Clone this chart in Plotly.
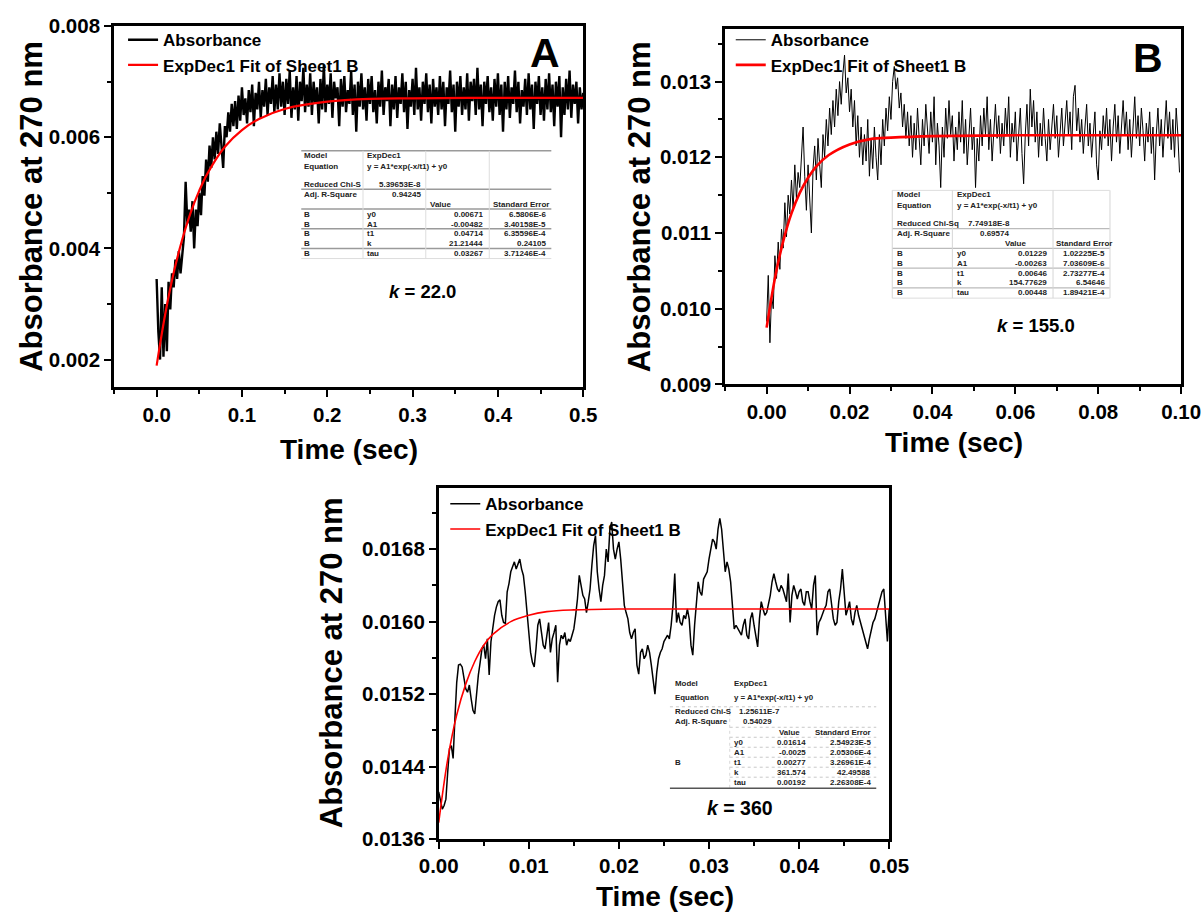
import plotly.graph_objects as go

W, H = 1203, 917
FONT = "Liberation Sans, Arial, sans-serif"

# ---------------- Panel A (k = 22.0) ----------------
A_STEP = 0.002  # sampling interval, s
A_abs_1e5 = [
    345, 250, 200, 330, 205, 300, 215, 340, 290, 355,
    330, 380, 345, 395, 355, 390, 420, 520, 445, 470,
    430, 485, 400, 470, 440, 500, 460, 530, 495, 560,
    520, 585, 545, 600, 560, 610, 570, 625, 590, 545,
    620, 600, 645, 610, 660, 620, 665, 615, 675, 630,
    690, 640, 670, 625, 685, 645, 695, 620, 680, 650,
    700, 635, 685, 655, 705, 640, 690, 660, 710, 645,
    695, 650, 715, 655, 700, 640, 705, 660, 720, 635,
    690, 650, 710, 630, 700, 665, 725, 645, 695, 655,
    715, 640, 700, 660, 690, 625, 705, 650, 730, 645,
    695, 660, 715, 635, 700, 670, 690, 620, 705, 655,
    710, 645, 685, 660, 720, 640, 695, 610, 700, 655,
    715, 650, 690, 630, 705, 660, 710, 645, 685, 625,
    700, 655, 720, 640, 690, 665, 705, 620, 695, 650,
    710, 635, 690, 660, 715, 645, 700, 615, 685, 655,
    705, 640, 725, 650, 690, 630, 700, 660, 715, 645,
    695, 625, 705, 655, 690, 640, 710, 650, 700, 620,
    690, 660, 720, 645, 695, 610, 700, 655, 710, 640,
    690, 650, 715, 630, 700, 665, 705, 640, 725, 650,
    695, 620, 700, 660, 710, 645, 690, 630, 705, 655,
    715, 640, 695, 610, 700, 650, 710, 635, 690, 660,
    720, 645, 700, 625, 685, 655, 705, 640, 715, 650,
    695, 615, 700, 660, 710, 640, 690, 630, 705, 650,
    715, 645, 695, 620, 700, 655, 710, 600, 690, 640,
    705, 650, 720, 635, 695, 660, 700, 625, 690, 650,
    680,
]
A_fit_time = [0.0, 0.01, 0.02, 0.03, 0.04, 0.05, 0.06, 0.08, 0.10, 0.12, 0.15, 0.20, 0.25, 0.30, 0.40, 0.50]
A_fit_abs = [0.00189, 0.00281, 0.00356, 0.00416, 0.00465, 0.00504, 0.00536, 0.00583, 0.00613,
             0.00633, 0.00651, 0.00664, 0.00669, 0.00670, 0.00671, 0.00671]

# ---------------- Panel B (k = 155.0) ----------------
B_STEP = 0.0004
B_abs_1e5 = [
    983, 1044, 955, 1018, 1000, 1070, 1040, 1088, 1052, 1105,
    1080, 1140, 1095, 1150, 1125, 1170, 1130, 1190, 1145, 1180,
    1160, 1200, 1240, 1175, 1130, 1190, 1150, 1100, 1185, 1215,
    1170, 1225, 1190, 1160, 1230, 1200, 1250, 1215, 1265, 1230,
    1275, 1240, 1290, 1255, 1300, 1270, 1310, 1335, 1285, 1305,
    1260, 1290, 1240, 1275, 1215, 1255, 1200, 1240, 1190, 1230,
    1195, 1250, 1175, 1225, 1185, 1240, 1200, 1170, 1230, 1190,
    1250, 1215, 1265, 1235, 1280, 1250, 1300, 1320, 1290, 1305,
    1265, 1285, 1240, 1270, 1225, 1260, 1215, 1255, 1200, 1245,
    1210, 1265, 1225, 1190, 1250, 1215, 1270, 1235, 1205, 1260,
    1220, 1280, 1190, 1245, 1215, 1160, 1240, 1200, 1265, 1225,
    1275, 1230, 1255, 1195, 1240, 1210, 1260, 1220, 1275, 1205,
    1250, 1190, 1235, 1265, 1210, 1240, 1160, 1225, 1195, 1255,
    1215, 1265, 1230, 1280, 1210, 1250, 1195, 1240, 1270, 1225,
    1255, 1205, 1245, 1215, 1265, 1230, 1280, 1200, 1245, 1220,
    1260, 1195, 1235, 1265, 1205, 1165, 1230, 1270, 1215, 1290,
    1240, 1275, 1220, 1260, 1200, 1245, 1215, 1265, 1225, 1195,
    1250, 1210, 1240, 1270, 1225, 1255, 1200, 1235, 1265, 1215,
    1245, 1275, 1230, 1260, 1210, 1280, 1295, 1235, 1265, 1220,
    1250, 1205, 1240, 1270, 1215, 1245, 1200, 1230, 1260, 1190,
    1170, 1235, 1210, 1255, 1225, 1265, 1215, 1250, 1195, 1240,
    1270, 1220, 1255, 1205, 1245, 1275, 1230, 1260, 1210, 1250,
    1200, 1240, 1280, 1225, 1255, 1215, 1265, 1235, 1195, 1245,
    1220, 1260, 1205, 1240, 1170, 1230, 1265, 1215, 1250, 1200,
    1245, 1275, 1225, 1260, 1210, 1250, 1200, 1265, 1230, 1180,
]
B_fit_time = [0.0, 0.002, 0.004, 0.006, 0.008, 0.010, 0.012, 0.015, 0.020, 0.025, 0.030, 0.040, 0.060, 0.100]
B_fit_abs = [0.00975, 0.01040, 0.01089, 0.01126, 0.01153, 0.01173, 0.01188, 0.01203, 0.01217,
             0.01224, 0.01226, 0.01228, 0.01229, 0.01229]

# ---------------- Panel C (k = 360) ----------------
C_STEP = 0.0002
C_abs_1e5 = [
    1412, 1401, 1393, 1397, 1404, 1434, 1460, 1463, 1449, 1493,
    1533, 1552, 1553, 1550, 1535, 1526, 1522, 1530, 1515, 1502,
    1498, 1522, 1541, 1555, 1570, 1574, 1559, 1581, 1541, 1578,
    1596, 1607, 1616, 1622, 1624, 1607, 1599, 1598, 1633, 1642,
    1655, 1660, 1666, 1658, 1664, 1669, 1658, 1651, 1633, 1610,
    1581, 1566, 1555, 1550, 1570, 1596, 1603, 1588, 1574, 1570,
    1588, 1599, 1566, 1581, 1588, 1596, 1533, 1574, 1585, 1581,
    1588, 1574, 1581, 1578, 1585, 1592, 1607, 1625, 1651, 1640,
    1629, 1625, 1610, 1622, 1636, 1662, 1684, 1695, 1655, 1636,
    1622, 1640, 1651, 1680, 1666, 1702, 1710, 1680, 1669, 1680,
    1688, 1669, 1644, 1618, 1610, 1603, 1588, 1581, 1588, 1592,
    1552, 1542, 1566, 1570, 1559, 1563, 1574, 1566, 1552, 1537,
    1520, 1544, 1559, 1566, 1570, 1578, 1581, 1585, 1581, 1596,
    1618, 1653, 1599, 1610, 1599, 1596, 1607, 1603, 1614, 1603,
    1574, 1563, 1596, 1622, 1644, 1633, 1629, 1647, 1651, 1655,
    1669, 1680, 1691, 1688, 1680, 1702, 1714, 1702, 1677, 1655,
    1666, 1658, 1644, 1622, 1592, 1596, 1592, 1588, 1585, 1596,
    1603, 1585, 1581, 1603, 1610, 1596, 1585, 1572, 1603, 1622,
    1614, 1607, 1610, 1618, 1629, 1644, 1653, 1644, 1636, 1633,
    1640, 1636, 1629, 1622, 1653, 1599, 1629, 1640, 1633, 1625,
    1633, 1636, 1622, 1618, 1633, 1633, 1622, 1614, 1640, 1651,
    1585, 1599, 1603, 1610, 1614, 1618, 1633, 1636, 1618, 1603,
    1596, 1599, 1622, 1636, 1658, 1633, 1607, 1614, 1622, 1603,
    1596, 1610, 1618, 1607, 1599, 1592, 1585, 1578, 1570, 1581,
    1592, 1599, 1603, 1610, 1618, 1625, 1633, 1636, 1603, 1578,
    1614,
]
C_fit_time = [0.0, 0.001, 0.002, 0.003, 0.004, 0.005, 0.006, 0.008, 0.010, 0.012, 0.015, 0.020, 0.050]
C_fit_abs = [0.01378, 0.01448, 0.01497, 0.01531, 0.01556, 0.01574, 0.01586, 0.01600, 0.01607,
             0.01611, 0.01613, 0.01614, 0.01614]

# ---------------- fit report tables ----------------
TAB_A = {"chi_label": "Reduced Chi-S", "chi": "5.39653E-8", "r2": "0.94245",
         "rows": [("y0", "0.00671", "6.5806E-6"), ("A1", "-0.00482", "3.40158E-5"),
                  ("t1", "0.04714", "6.35596E-4"), ("k", "21.21444", "0.24105"),
                  ("tau", "0.03267", "3.71246E-4")]}
TAB_B = {"chi_label": "Reduced Chi-Sq", "chi": "7.74918E-8", "r2": "0.69574",
         "rows": [("y0", "0.01229", "1.02225E-5"), ("A1", "-0.00263", "7.03609E-6"),
                  ("t1", "0.00646", "2.73277E-4"), ("k", "154.77629", "6.54646"),
                  ("tau", "0.00448", "1.89421E-4")]}
TAB_C = {"chi_label": "Reduced Chi-S", "chi": "1.25611E-7", "r2": "0.54029",
         "rows": [("y0", "0.01614", "2.54923E-5"), ("A1", "-0.0025", "2.05306E-4"),
                  ("t1", "0.00277", "3.26961E-4"), ("k", "361.574", "42.49588"),
                  ("tau", "0.00192", "2.26308E-4")]}
K_LABELS = ["22.0", "155.0", "360"]

# ---------------------------------------------------------------------------
def px(x):
    return x / W


def py(y):
    return 1 - y / H


# plot frames in page pixels: (left, right, top, bottom)
FR_A = (97.2, 582.6, 14.5, 385.0)
FR_B = (729.4, 1201.1, 17.0, 382.0)
FR_C = (433.1, 899.1, 487.8, 848.3)


def mapper(ref, new, dy=0.0):
    rx0, rx1, ry0, ry1 = ref
    nx0, nx1, ny0, ny1 = new
    return lambda x, y: (nx0 + (x - rx0) * (nx1 - nx0) / (rx1 - rx0),
                         ny0 + (y - ry0) * (ny1 - ny0) / (ry1 - ry0) + dy)


# table layouts are measured relative to these frame boxes
mA = mapper((113, 569, 22, 388), FR_A)
mB = mapper((727, 1180, 23, 383), FR_B)
mC = mapper((438, 890, 485, 837), FR_C, -3.0)

A_time = [i * A_STEP for i in range(len(A_abs_1e5))]
B_time = [i * B_STEP for i in range(len(B_abs_1e5))]
C_time = [i * C_STEP for i in range(len(C_abs_1e5))]
A_abs = [v * 1e-5 for v in A_abs_1e5]
B_abs = [v * 1e-5 for v in B_abs_1e5]
C_abs = [v * 1e-5 for v in C_abs_1e5]

fig = go.Figure()
series = [
    ("x", "y", "legend", A_time, A_abs, 2.4, A_fit_time, A_fit_abs, 2.2),
    ("x2", "y2", "legend2", B_time, B_abs, 1.0, B_fit_time, B_fit_abs, 2.6),
    ("x3", "y3", "legend3", C_time, C_abs, 1.5, C_fit_time, C_fit_abs, 1.6),
]
for xa, ya, lg, t, a, w, ft, fa, fw in series:
    fig.add_trace(go.Scatter(x=t, y=a, mode="lines", name="Absorbance", xaxis=xa, yaxis=ya,
                             legend=lg, line=dict(color="black", width=w)))
    fig.add_trace(go.Scatter(x=ft, y=fa, mode="lines", name="ExpDec1 Fit of Sheet1 B",
                             xaxis=xa, yaxis=ya, legend=lg, line_shape="spline",
                             line=dict(color="#ff0000", width=fw)))

tickfont = dict(family=FONT, size=20.5, color="black", weight="bold")


def ax(domain, rng, dtick, fmt, minor, tick0=0):
    return dict(domain=domain, range=rng, dtick=dtick, tick0=tick0, tickformat=fmt,
                ticks="outside", ticklen=7, tickwidth=2.2, tickcolor="black",
                showline=True, linewidth=2.6, linecolor="black", mirror=True,
                showgrid=False, zeroline=False, tickfont=tickfont, ticklabeloverflow="allow",
                minor=dict(dtick=minor, tick0=tick0, ticks="outside", ticklen=4, tickwidth=2.2,
                           tickcolor="black", showgrid=False))


fig.update_layout(
    width=W, height=H, margin=dict(l=0, r=0, t=0, b=0),
    paper_bgcolor="white", plot_bgcolor="white",
    xaxis=ax([px(FR_A[0]), px(FR_A[1])], [-0.05, 0.5], 0.1, ".1f", 0.05),
    yaxis=ax([py(FR_A[3]), py(FR_A[2])], [0.0015, 0.008], 0.002, ".3f", 0.001),
    xaxis2=ax([px(FR_B[0]), px(FR_B[1])], [-0.01, 0.1], 0.02, ".2f", 0.01),
    yaxis2=ax([py(FR_B[3]), py(FR_B[2])], [0.009, 0.0137], 0.001, ".3f", 0.0005),
    xaxis3=ax([px(FR_C[0]), px(FR_C[1])], [0.0, 0.05], 0.01, ".2f", 0.005),
    yaxis3=ax([py(FR_C[3]), py(FR_C[2])], [0.0136, 0.01748], 0.0008, ".4f", 0.0004, 0.0136),
)
fig.layout.xaxis2.anchor = "y2"
fig.layout.yaxis2.anchor = "x2"
fig.layout.xaxis3.anchor = "y3"
fig.layout.yaxis3.anchor = "x3"

legfont = dict(family=FONT, size=17, color="black", weight="bold")
for name, x0, y0 in [("legend", 106.6, 10.5), ("legend2", 735.2, 10.5), ("legend3", 439.9, 486.5)]:
    fig.layout[name] = dict(x=px(x0), y=py(y0), xanchor="left", yanchor="top",
                            bgcolor="rgba(0,0,0,0)", borderwidth=0, font=legfont,
                            tracegroupgap=0)

ann = []
shapes = []


def text(x, y, s, size=20, anchor="center", **kw):
    d = dict(x=px(x), y=py(y), xref="paper", yref="paper", text=s, showarrow=False,
             xanchor=anchor, yanchor="middle",
             font=dict(family=FONT, size=size, color=kw.pop("color", "black"),
                       weight=kw.pop("weight", "bold")))
    d.update(kw)
    ann.append(d)


def line(x0, y0, x1, y1, color="#aaaaaa", width=1, dash="solid"):
    shapes.append(dict(type="line", xref="paper", yref="paper", x0=px(x0), y0=py(y0),
                       x1=px(x1), y1=py(y1), line=dict(color=color, width=width, dash=dash)))


# axis titles
for cx, cy in [(340.3, 448.5), (966.1, 441.3), (667.1, 907.5)]:
    text(cx, cy, "Time (sec)", size=28)
for cx, cy in [(12.5, 199.8), (641, 199.5), (321.8, 667.9)]:
    text(cx, cy, "Absorbance at 270 nm", size=31, textangle=-90)

# panel letters
text(543.4, 42.5, "A", size=41)
text(1167.1, 47.6, "B", size=41)

# k labels
text(416.6, 286.5, "<i>k</i> = " + K_LABELS[0], size=18.5)
text(1050.6, 322.0, "<i>k</i> = " + K_LABELS[1], size=18.5)
text(744.4, 816.5, "<i>k</i> = " + K_LABELS[2], size=19.5)

TC = "#222222"
TS_AB = 8.0
TS_C = 7.9


def T(m, x, y, s, anchor="left", size=TS_AB):
    X, Y = m(x, y)
    text(X, Y, s, size, anchor, color=TC)


def L(m, x0, y0, x1, y1, color, width=1, dash="solid"):
    X0, Y0 = m(x0, y0)
    X1, Y1 = m(x1, y1)
    line(X0, Y0, X1, Y1, color, width, dash)


def table_text(m, tab, c1, c2, c3r, c4l, c4r, rows_y, hdr_val_x, val_anchor, size):
    ym, ye, yr, ya, yh = rows_y[:5]
    T(m, c1, ym, "Model", size=size)
    T(m, c2, ym, "ExpDec1", size=size)
    T(m, c1, ye, "Equation", size=size)
    T(m, c2, ye, "y = A1*exp(-x/t1) + y0", size=size)
    T(m, c1, yr, tab["chi_label"], size=size)
    T(m, c1, ya, "Adj. R-Square", size=size)
    T(m, hdr_val_x, yh, "Value", val_anchor, size=size)
    T(m, c4l, yh, "Standard Error", size=size)
    for (p, v, e), yy in zip(tab["rows"], rows_y[5:]):
        T(m, c2, yy, p, size=size)
        T(m, c3r, yy, v, "right", size=size)
        T(m, c4r, yy, e, "right", size=size)


# Table A
rowsA = [153.5, 164, 182.5, 192.5, 202.5, 212.5, 222.5, 232.5, 242.5, 252.5]
table_text(mA, TAB_A, 296, 357, 474, 479, 535, rowsA, 418, "left", TS_AB)
T(mA, 413, 182.5, TAB_A["chi"], "right")
T(mA, 413, 192.5, TAB_A["r2"], "right")
for yy in rowsA[5:]:
    T(mA, 296, yy, "B")
for yy in [148.3, 187.3, 207.3, 227.3, 247.3]:
    L(mA, 295, yy, 538, yy, "#9a9a9a", 1.5)
L(mA, 295, 257.5, 538, 257.5, "#dddddd", 1)
for xx in [355, 416, 477.7]:
    L(mA, xx, 148.3, xx, 257.5, "#dddddd", 1)

# Table B
rowsB = [191, 201.7, 220.3, 230.3, 240.3, 250.3, 260.3, 270.3, 280.3, 290.3]
table_text(mB, TAB_B, 896, 955, 1049, 1054, 1106, rowsB, 1028, "right", TS_AB)
T(mB, 1012, 220.3, TAB_B["chi"], "right")
T(mB, 1011, 230.3, TAB_B["r2"], "right")
for yy in rowsB[5:]:
    T(mB, 896, yy, "B")
for yy in [225.3, 245.3, 265.3, 285.3]:
    L(mB, 893, yy, 1109, yy, "#bbbbbb", 1.2)
L(mB, 893, 295.7, 1109, 295.7, "#dddddd", 1)
L(mB, 893, 186.7, 1109, 186.7, "#dddddd", 1)
for xx in [893, 952.7, 1052.7, 1109.3]:
    L(mB, xx, 186.7, xx, 295.7, "#d5d5d5", 1)

# Table C
rowsC = [684, 698.3, 712.7, 722.7, 733, 743, 753, 763, 773.3, 783.3]
table_text(mC, TAB_C, 673, 732, 808.7, 814, 873.3, rowsC, 790, "center", TS_C)
T(mC, 737, 712.7, TAB_C["chi"], size=TS_C)
T(mC, 774, 722.7, TAB_C["r2"], "right", size=TS_C)
T(mC, 673, 763, "B", size=TS_C)
L(mC, 670, 707.5, 877, 707.5, "#c8c8c8", 1, "dot")
for yy in [728, 738, 748, 758, 768, 778]:
    L(mC, 730, yy, 877, yy, "#c8c8c8", 1, "dot")
L(mC, 730, 707.5, 730, 789, "#d8d8d8", 1, "dot")
L(mC, 670, 789, 877, 789, "#555555", 1.5)

fig.update_layout(annotations=ann, shapes=shapes)

PAGE_FIX = ("document.documentElement.style.margin='0';document.body.style.margin='0';"
            "document.documentElement.style.overflow='hidden';document.body.style.overflow='hidden';")
fig.write_html("out.html", post_script=PAGE_FIX)
